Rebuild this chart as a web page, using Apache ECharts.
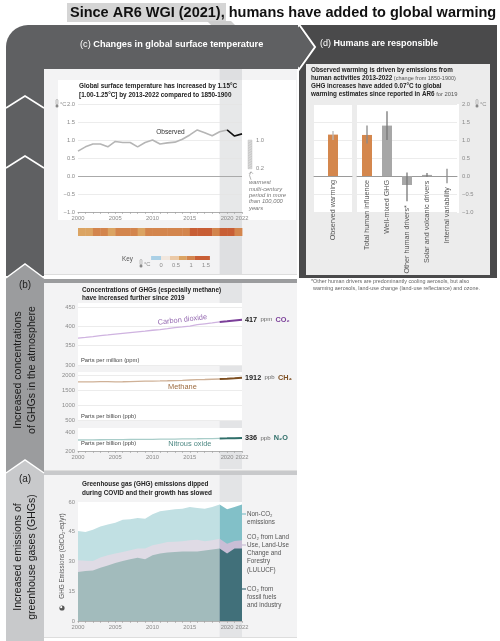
<!DOCTYPE html>
<html>
<head>
<meta charset="utf-8">
<script src="https://cdn.jsdelivr.net/npm/echarts@6.0.0/dist/echarts.min.js"></script>
<style>html,body{margin:0;padding:0;background:#fff;}#chart{width:500px;height:641px;}</style>
</head>
<body>
<div id="chart"></div>
<script>
// ---------------- DATA ----------------
const years = [2000,2001,2002,2003,2004,2005,2006,2007,2008,2009,2010,2011,2012,2013,2014,2015,2016,2017,2018,2019,2020,2021,2022];
const tickYears = [2000,2005,2010,2015,2020,2022];

// (c) observed global surface temperature change vs 1850-1900 (°C)
const tempObserved = [0.69,0.81,0.89,0.89,0.81,0.96,0.93,0.93,0.81,0.93,1.00,0.89,0.92,0.94,1.02,1.14,1.28,1.20,1.12,1.23,1.28,1.11,1.17];
const warmestRange = [0.2, 1.0];
const keyTicks = [0, 0.5, 1, 1.5];
const keyBreaks = [-0.33, 0, 0.3, 0.6, 0.85, 1.13, 1.63];

// (d) attribution 2013-2022 (°C)
const attribCategories = ['Observed warming','Total human influence','Well-mixed GHG','Other human drivers*','Solar and volcanic drivers','Internal variability'];
const attribValues = [1.15, 1.14, 1.40, -0.25, 0.03, 0.00];
const attribLow    = [1.00, 0.90, 1.00, -0.70, -0.02, -0.20];
const attribHigh   = [1.25, 1.40, 1.80, 0.10, 0.08, 0.20];

// (b) concentrations
const co2 = [369.7,371.3,373.4,375.9,377.7,379.8,381.9,383.8,385.6,387.4,389.9,391.6,393.9,396.5,398.6,400.8,404.2,406.5,408.7,411.4,413.2,415.2,417.0];
const ch4 = [1773,1771,1773,1777,1777,1774,1775,1781,1787,1793,1799,1803,1808,1814,1823,1834,1843,1850,1858,1866,1879,1895,1912];
const n2o = [316.0,317.0,317.6,318.3,319.0,319.6,320.2,321.0,321.7,322.5,323.2,324.1,325.0,325.9,327.1,328.1,328.9,329.8,331.1,332.1,333.1,334.5,336.0];

// (a) GHG emissions (GtCO2-eq/yr)
const ffi    = [24.7,25.2,25.5,26.9,28.0,29.2,30.3,31.1,31.9,31.1,33.1,34.0,34.5,34.8,35.0,35.0,35.1,35.6,36.1,36.5,34.0,36.5,36.6];
const lulucf = [5.9,5.2,4.8,5.1,5.1,4.8,4.5,4.6,4.6,5.4,5.1,5.0,5.3,5.2,5.2,5.7,5.9,4.6,4.6,5.0,5.0,3.8,4.1];
const nonCO2 = [14.8,14.5,15.7,15.7,15.6,15.6,16.3,15.6,15.4,15.1,15.6,16.3,16.0,16.3,16.4,16.8,16.0,16.4,16.8,17.2,17.3,17.2,18.0];

// ---------------- STYLE ----------------
const F = '"Liberation Sans", Arial, Helvetica, sans-serif';
const attribColors = ['#d4874d','#d4874d','#a7a7a7','#a7a7a7','#a7a7a7','#a7a7a7'];
const errColors = ['#b9b9b9','#8a8a8a','#777','#777','#777','#8a8a8a'];
const recentIdx = 19; // highlighted recent period starts at 2019

function stripeColor(v){
  if (v < 0) return '#aad0e6';
  if (v < 0.3) return '#f1e7de';
  if (v < 0.6) return '#ebc9a6';
  if (v < 0.85) return '#dba463';
  if (v < 1.13) return '#d3854d';
  return '#c85e35';
}
function signed(v){ const s = Math.abs(v).toFixed(1); return v < 0 ? '\u2212' + s : s; }

function yearAxis(gi, show){
  return {type:'value', gridIndex:gi, min:2000, max:2022, interval:1,
    axisLine:{show:show, onZero:false, lineStyle:{color:'#9d9d9d', width:0.8}},
    axisTick:{show:show, length:2, lineStyle:{color:'#9d9d9d', width:0.6}},
    axisLabel:{show:show, fontSize:5.8, color:'#8a8a8a', margin:3, fontFamily:F,
      formatter: v => tickYears.includes(v) ? String(v) : ''},
    splitLine:{show:false}};
}
function valAxis(gi, min, max, interval, o){
  o = o || {};
  return {type:'value', gridIndex:gi, min, max, interval, position:o.pos||'left',
    axisLine:{show:false}, axisTick:{show:false},
    axisLabel:{show:o.labels!==false, fontSize:5.8, color:'#8a8a8a', margin:o.margin||3, fontFamily:F,
      formatter:o.fmt || (v=>String(v))},
    splitLine:{show:o.split!==false, lineStyle:{color:'#e4e4e4', width:0.7}}};
}

function errRender(off){
  return function(params, api){
    const i = api.value(0);
    const a = api.coord([i, api.value(1)]);
    const b = api.coord([i, api.value(2)]);
    return {type:'line', shape:{x1:a[0], y1:a[1], x2:b[0], y2:b[1]},
      style:{stroke: errColors[off + params.dataIndex], lineWidth:1.3}};
  };
}
function labRender(off){
  return function(params, api){
    const i = api.value(0);
    const p = api.coord([i, api.value(1)]);
    return {type:'text', x:p[0], y:p[1] + 4, rotation:Math.PI/2,
      style:{text: attribCategories[off + params.dataIndex], fontSize:7.2, fontFamily:F,
        fill:'#555', align:'right', verticalAlign:'middle'}};
  };
}
function pairs(arr, from, to){ return years.slice(from, to).map((y,k)=>[y, arr[from + k]]); }

function gasLines(gi, arr, light, dark, unit, gas){
  return [
    {type:'line', xAxisIndex:gi, yAxisIndex:gi, data:pairs(arr, 0, recentIdx + 1), symbol:'none',
      lineStyle:{color:light, width:1.3}, z:3},
    {type:'line', xAxisIndex:gi, yAxisIndex:gi, data:pairs(arr, recentIdx, years.length), symbol:'none',
      lineStyle:{color:dark, width:2}, z:4,
      endLabel:{show:true, distance:3, fontFamily:F,
        formatter: p => '{v|' + Math.round(p.value[1]) + '} {u|' + unit + '} {g|' + gas + '}',
        rich:{v:{fontSize:7.3, fontWeight:'bold', color:'#222', fontFamily:F},
              u:{fontSize:6, color:'#666', fontFamily:F},
              g:{fontSize:7.3, fontWeight:'bold', color:dark, fontFamily:F}}}}
  ];
}
// stacked layers: cumulative tops, each drawn as an area down to zero, upper layers first
const layers = [ffi, lulucf, nonCO2];
function cumTop(n){ return years.map((y,i)=>{ let s = 0; for (let k = 0; k <= n; k++) s += layers[k][i]; return s; }); }
function areaPair(n, light, dark){
  const top = cumTop(n);
  return [
    {type:'line', xAxisIndex:7, yAxisIndex:7, data:pairs(top, 0, recentIdx + 1), symbol:'none',
      lineStyle:{width:0}, areaStyle:{color:light, opacity:1}, z:2},
    {type:'line', xAxisIndex:7, yAxisIndex:7, data:pairs(top, recentIdx, years.length), symbol:'none',
      lineStyle:{width:0}, areaStyle:{color:dark, opacity:1}, z:2}
  ];
}

const option = {
  animation:false,
  textStyle:{fontFamily:F},
  grid:[
    {left:78, top:104, width:164, height:108},  // 0 temperature
    {left:78, top:228, width:164, height:8},    // 1 stripes
    {left:314, top:104, width:38, height:108},  // 2 observed
    {left:357, top:104, width:100, height:108}, // 3 contributions
    {left:78, top:307, width:164, height:58},   // 4 CO2
    {left:78, top:375, width:164, height:45},   // 5 CH4
    {left:78, top:432, width:164, height:19},   // 6 N2O
    {left:78, top:502, width:164, height:119}   // 7 emissions
  ],
  xAxis:[
    yearAxis(0, true),
    yearAxis(1, false),
    {type:'category', gridIndex:2, data:[attribCategories[0]], axisLine:{onZero:true, lineStyle:{color:'#9a9a9a', width:1}}, axisTick:{show:false}, axisLabel:{show:false}},
    {type:'category', gridIndex:3, data:attribCategories.slice(1), axisLine:{onZero:true, lineStyle:{color:'#9a9a9a', width:1}}, axisTick:{show:false}, axisLabel:{show:false}},
    yearAxis(4, false),
    yearAxis(5, false),
    yearAxis(6, true),
    yearAxis(7, true)
  ],
  yAxis:[
    valAxis(0, -1, 2, 0.5, {fmt:signed, margin:3}),
    valAxis(1, 0, 1, 1, {labels:false, split:false}),
    valAxis(2, -1, 2, 0.5, {labels:false}),
    valAxis(3, -1, 2, 0.5, {fmt:signed, pos:'right', margin:5}),
    valAxis(4, 300, 450, 50, {}),
    valAxis(5, 500, 2000, 500, {}),
    valAxis(6, 200, 400, 200, {split:false}),
    valAxis(7, 0, 60, 15, {split:false})
  ],
  series:[
    {type:'line', xAxisIndex:0, yAxisIndex:0, data:pairs(tempObserved, 0, 21), symbol:'none',
      lineStyle:{color:'#b5b5b5', width:1.6}, z:3,
      markLine:{silent:true, symbol:'none', label:{show:false}, lineStyle:{color:'#aaaaaa', width:1, type:'solid'}, data:[{yAxis:0}]}},
    {type:'line', xAxisIndex:0, yAxisIndex:0, data:pairs(tempObserved, 20, 23), symbol:'none',
      lineStyle:{color:'#111', width:1.6}, z:4},
    {type:'custom', xAxisIndex:1, yAxisIndex:1, data:pairs(tempObserved, 0, 22),
      renderItem:(params, api)=>{
        const x0 = api.value(0);
        const a = api.coord([x0, 0]); const b = api.coord([x0 + 1, 1]);
        return {type:'rect', shape:{x:a[0], y:b[1], width:b[0]-a[0]+0.4, height:a[1]-b[1]},
          style:{fill:stripeColor(api.value(1))}};
      }},
    {type:'bar', xAxisIndex:2, yAxisIndex:2, barWidth:10, data:[{value:attribValues[0], itemStyle:{color:attribColors[0]}}]},
    {type:'bar', xAxisIndex:3, yAxisIndex:3, barWidth:10, data:attribValues.slice(1).map((v,i)=>({value:v, itemStyle:{color:attribColors[i+1]}}))},
    {type:'custom', xAxisIndex:2, yAxisIndex:2, z:5, data:[[0, attribLow[0], attribHigh[0]]], renderItem:errRender(0)},
    {type:'custom', xAxisIndex:3, yAxisIndex:3, z:5, data:attribLow.slice(1).map((l,i)=>[i, l, attribHigh[i+1]]), renderItem:errRender(1)},
    {type:'custom', xAxisIndex:2, yAxisIndex:2, z:5, data:[[0, Math.min(attribLow[0], attribValues[0], 0)]], renderItem:labRender(0)},
    {type:'custom', xAxisIndex:3, yAxisIndex:3, z:5, data:attribLow.slice(1).map((l,i)=>[i, Math.min(l, attribValues[i+1], 0)]), renderItem:labRender(1)},
    ...gasLines(4, co2, '#cfb3e0', '#7b3f99', 'ppm', 'CO\u2082'),
    ...gasLines(5, ch4, '#cfb197', '#7d4f22', 'ppb', 'CH\u2084'),
    ...gasLines(6, n2o, '#a9cdc9', '#2f6e69', 'ppb', 'N\u2082O'),
    ...areaPair(2, '#c1e0e3', '#82c0c8'),
    ...areaPair(1, '#dfdbe5', '#c9bed6'),
    ...areaPair(0, '#a2bbbc', '#41707a')
  ]
};

const chart = echarts.init(document.getElementById('chart'), null, {renderer:'canvas'});
chart.setOption(option);

// ---------------- DECORATION / TEXT ----------------
const px = (g, x, y) => chart.convertToPixel({gridIndex:g}, [x, y]);
const G = [];
function rect(x,y,w,h,fill,z,r){ G.push({type:'rect', silent:true, z:z, shape:{x,y,width:w,height:h,r:r||0}, style:{fill}}); }
function poly(points, fill, z){ G.push({type:'polygon', silent:true, z:z, shape:{points}, style:{fill}}); }
function pline(points, stroke, lw, z){ G.push({type:'polyline', silent:true, z:z, shape:{points}, style:{stroke, lineWidth:lw, fill:null}}); }
function text(x, y, t, o){
  o = o || {};
  const st = {text:t, fontSize:o.fs||6, fontFamily:F, fontWeight:o.fw||'normal', fontStyle:o.it?'italic':'normal',
      fill:o.c||'#333', align:o.al||'left', verticalAlign:o.va||'middle'};
  if (o.lh) st.lineHeight = o.lh;
  if (o.rich) st.rich = o.rich;
  G.push({type:'text', silent:true, z:30, x, y, rotation:o.rot||0, style:st});
}
function thermo(x, y){
  G.push({type:'rect', silent:true, z:30, shape:{x:x-0.9, y:y-4.5, width:1.8, height:5.5, r:0.9}, style:{fill:'#fff', stroke:'#888', lineWidth:0.6}});
  G.push({type:'circle', silent:true, z:30, shape:{cx:x, cy:y+2, r:1.5}, style:{fill:'#888'}});
}

// backgrounds
rect(67, 3, 159, 19, '#d5d5d5', -20);
poly([[207,21],[231,21],[236,26],[212,26]], '#cdcdcd', -20);
rect(299, 25, 198, 253, '#4a4a4b', -20);
rect(6, 25, 292, 44, '#5f6062', -20, [22,0,0,0]);
poly([[297,25],[314,47],[297,69]], '#5f6062', -20);
rect(6, 60, 38, 216, '#5f6062', -20);
pline([[298,23],[315,47],[298,71]], '#ffffff', 2, -19);
rect(44, 69, 253, 205, '#f3f3f4', -19);
rect(306, 64, 184, 211, '#ececec', -19);
pline([[6,108],[25,96],[44,108]], '#ffffff', 1.5, -19);
pline([[6,168],[25,156],[44,168]], '#ffffff', 1.5, -19);
poly([[6,278],[25,264],[44,278],[44,476],[6,476]], '#9b9c9e', -19);
pline([[6,278],[25,264],[44,278]], '#ffffff', 1.5, -18);
rect(44, 279, 253, 4, '#9b9c9e', -19);
rect(44, 283, 253, 187, '#f3f3f4', -19);
poly([[6,473],[25,460],[44,473],[44,641],[6,641]], '#c8c9cb', -18);
pline([[6,473],[25,460],[44,473]], '#ffffff', 1.5, -18);
rect(44, 471, 253, 4, '#c8c9cb', -19);
rect(44, 475, 253, 162, '#f3f3f4', -19);
rect(44, 274, 253, 0.8, '#d2d2d2', -19);
rect(44, 470, 253, 0.8, '#d2d2d2', -19);
rect(44, 637, 253, 0.8, '#d2d2d2', -19);

// recent-period bands
const bx0 = px(0, years[recentIdx], 0)[0];
const bx1 = px(0, years[years.length-1], 0)[0];
rect(bx0, 283, bx1-bx0, 186, '#e3e4e6', -18);
rect(bx0, 475, bx1-bx0, 162, '#e3e4e6', -18);

// white plot areas
rect(58, 80, 238, 140, '#ffffff', -17);
rect(314, 104, 38, 109, '#ffffff', -17);
rect(357, 104, 102, 109, '#ffffff', -17);
rect(78, 303, 164, 63, '#ffffff', -17);
rect(78, 372, 164, 49, '#ffffff', -17);
rect(78, 428, 164, 23, '#ffffff', -17);
rect(78, 502, 164, 120, '#ffffff', -17);
rect(bx0, 69, bx1-bx0, 205, 'rgba(170,172,176,0.28)', -16);

// main title
text(70, 13, 'Since AR6 WGI (2021), humans have added to global warming', {fs:14.5, fw:'bold', c:'#111'});
// headers
text(80, 44, '{n|(c) }{b|Changes in global surface temperature}', {c:'#fff',
  rich:{n:{fontSize:9.2, fill:'#fff', fontFamily:F}, b:{fontSize:9.2, fontWeight:'bold', fill:'#fff', fontFamily:F}}});
text(320, 44, '{n|(d) }{b|Humans are responsible}', {c:'#fff',
  rich:{n:{fontSize:9, fill:'#fff', fontFamily:F}, b:{fontSize:9, fontWeight:'bold', fill:'#fff', fontFamily:F}}});

// (c) chart texts
text(79, 86, 'Global surface temperature has increased by 1.15\u00b0C', {fs:6.4, fw:'bold', c:'#222'});
text(79, 95, '[1.00-1.25\u00b0C] by 2013-2022 compared to 1850-1900', {fs:6.4, fw:'bold', c:'#222'});
thermo(57, 104); text(60, 104, '\u00b0C', {fs:5.8, c:'#8a8a8a'});
const obsP = px(0, 2012.4, tempObserved[12]);
text(obsP[0], obsP[1] - 11, 'Observed', {fs:6.6, c:'#333', al:'center'});
const w1 = px(0, 2022, warmestRange[1]), w0 = px(0, 2022, warmestRange[0]);
G.push({type:'rect', silent:true, z:5, shape:{x:w1[0]+6, y:w1[1], width:4, height:w0[1]-w1[1]}, style:{fill:'#d8d8d8', stroke:'#c4c4c4', lineWidth:0.5}});
for (let yy = w1[1] + 2; yy < w0[1]; yy += 2.5) {
  G.push({type:'line', silent:true, z:6, shape:{x1:w1[0]+6, y1:yy+1.5, x2:w1[0]+10, y2:yy-1}, style:{stroke:'#b8b8b8', lineWidth:0.5}});
}
text(w1[0]+14, w1[1], warmestRange[1].toFixed(1), {fs:5.8, c:'#8a8a8a'});
text(w0[0]+14, w0[1], warmestRange[0].toFixed(1), {fs:5.8, c:'#8a8a8a'});
G.push({type:'bezierCurve', silent:true, z:6, shape:{x1:w0[0]+9, y1:w0[1]+11, cpx1:w0[0]+6, cpy1:w0[1]+6, x2:w0[0]+9, y2:w0[1]+3}, style:{stroke:'#888', lineWidth:0.6, fill:null}});
pline([[w0[0]+7,w0[1]+5],[w0[0]+9,w0[1]+3],[w0[0]+11,w0[1]+5]], '#888', 0.6, 6);
['warmest','multi-century','period in more','than 100,000','years'].forEach((s,i)=>{
  text(w0[0]+7, w0[1] + 14 + i*6.3, s, {fs:5.8, it:true, c:'#777'});
});
// key
text(122, 259, 'Key', {fs:6.3, c:'#555'});
thermo(141, 264); text(144, 264, '\u00b0C', {fs:5.8, c:'#8a8a8a'});
const keyX = v => 161 + v*30;
for (let i = 0; i < keyBreaks.length - 1; i++) {
  const a = keyBreaks[i], b = keyBreaks[i+1];
  rect(keyX(a), 256, keyX(b)-keyX(a), 4, stripeColor((a+b)/2), 25);
}
keyTicks.forEach(v => text(keyX(v), 265, String(v), {fs:5.8, c:'#8a8a8a', al:'center'}));

// (d) texts
text(311, 70, 'Observed warming is driven by emissions from', {fs:6.3, fw:'bold', c:'#222'});
text(311, 78, '{b|human activities 2013-2022} {n|(change from 1850-1900)}', {rich:{b:{fontSize:6.3, fontWeight:'bold', fill:'#222', fontFamily:F}, n:{fontSize:5.5, fill:'#555', fontFamily:F}}});
text(311, 86, 'GHG increases have added 0.07\u00b0C to global', {fs:6.3, fw:'bold', c:'#222'});
text(311, 94, '{b|warming estimates since reported in AR6} {n|for 2019}', {rich:{b:{fontSize:6.3, fontWeight:'bold', fill:'#222', fontFamily:F}, n:{fontSize:5.8, fill:'#555', fontFamily:F}}});
thermo(477, 104); text(480, 104, '\u00b0C', {fs:5.8, c:'#8a8a8a'});
text(311, 282, '*Other human drivers are predominantly cooling aerosols, but also', {fs:5.4, c:'#666'});
text(313, 288.5, 'warming aerosols, land-use change (land-use reflectance) and ozone.', {fs:5.4, c:'#666'});

// left arrow texts
text(25, 285, '(b)', {fs:10, c:'#222', al:'center'});
text(25, 370, 'Increased concentrations\nof GHGs in the atmosphere', {fs:10.5, c:'#1a1a1a', al:'center', rot:Math.PI/2, lh:14});
text(25, 479, '(a)', {fs:10, c:'#222', al:'center'});
text(25, 557, 'Increased emissions of\ngreenhouse gases (GHGs)', {fs:10.5, c:'#1a1a1a', al:'center', rot:Math.PI/2, lh:14});

// (b) texts
text(82, 290, 'Concentrations of GHGs (especially methane)', {fs:6.4, fw:'bold', c:'#222'});
text(82, 298, 'have increased further since 2019', {fs:6.4, fw:'bold', c:'#222'});
text(81, 360, 'Parts per million (ppm)', {fs:5.8, c:'#444'});
text(81, 416, 'Parts per billion (ppb)', {fs:5.8, c:'#444'});
text(81, 443, 'Parts per billion (ppb)', {fs:5.8, c:'#444'});
const c0 = px(4, years[0], co2[0]), c19 = px(4, years[recentIdx], co2[recentIdx]);
const ang = Math.atan2(c0[1]-c19[1], c19[0]-c0[0]);
const cp = px(4, 2014, co2[14]);
text(cp[0], cp[1]-7, 'Carbon dioxide', {fs:7.4, c:'#9468b0', al:'center', rot:ang});
const mp = px(5, 2014, ch4[14]);
text(mp[0], mp[1]+7, 'Methane', {fs:7.4, c:'#9c6a3e', al:'center'});
const np = px(6, 2015, n2o[15]);
text(np[0], np[1]+5, 'Nitrous oxide', {fs:7.4, c:'#4f8984', al:'center'});

// (a) texts
text(82, 484, 'Greenhouse gas (GHG) emissions dipped', {fs:6.4, fw:'bold', c:'#222'});
text(82, 493, 'during COVID and their growth has slowed', {fs:6.4, fw:'bold', c:'#222'});
text(62, 556, 'GHG Emissions (GtCO\u2082-eq/yr)', {fs:6.3, c:'#555', al:'center', rot:Math.PI/2});
G.push({type:'circle', silent:true, z:30, shape:{cx:62, cy:608, r:2.6}, style:{fill:'#555'}});
G.push({type:'circle', silent:true, z:31, shape:{cx:61.2, cy:607.2, r:1.1}, style:{fill:'#fff'}});
const labX = 247;
pline([[242,514],[246,514]], '#82c0c8', 1.2, 30);
['Non-CO\u2082','emissions'].forEach((s,i)=>text(labX, 514 + i*8.3, s, {fs:6.3, c:'#555'}));
pline([[242,545],[246,545]], '#c9bed6', 1.2, 30);
['CO\u2082 from Land','Use, Land-Use','Change and','Forestry','(LULUCF)'].forEach((s,i)=>text(labX, 537 + i*8.2, s, {fs:6.3, c:'#555'}));
pline([[242,589],[246,589]], '#41707a', 1.2, 30);
['CO\u2082 from','fossil fuels','and industry'].forEach((s,i)=>text(labX, 589 + i*8.3, s, {fs:6.3, c:'#555'}));

chart.setOption({graphic: G});
</script>
</body>
</html>
